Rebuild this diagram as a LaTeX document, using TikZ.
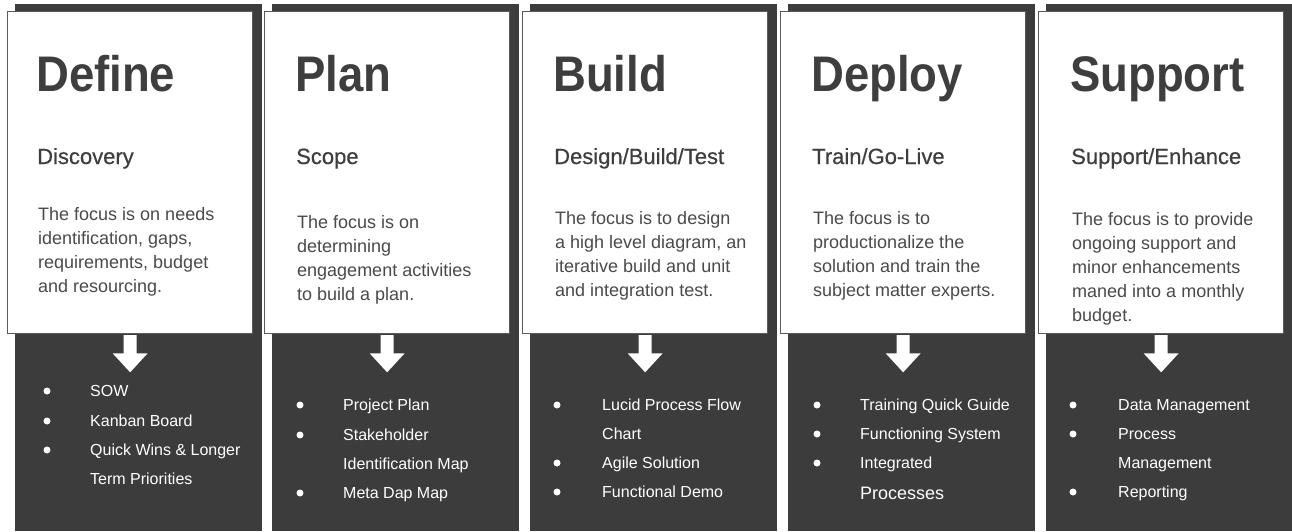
\documentclass[tikz,border=0pt]{standalone}
\usepackage{fontspec}
\setmainfont{Liberation Sans}
\newfontfamily\headfont{Liberation Sans Bold}[FakeStretch=0.91]
\newfontfamily\subfont{Liberation Sans}[FakeBold=0.5]
\usetikzlibrary{calc}

\definecolor{panelgray}{HTML}{3C3C3C}
\definecolor{inkgray}{HTML}{3E3E3E}
\definecolor{bodygray}{HTML}{4A4A4A}
\definecolor{edgegray}{HTML}{5A5A5A}

\tikzset{
  panel/.style={fill=panelgray, draw=none, anchor=north west, inner sep=0pt,
    minimum width=247pt, minimum height=527pt},
  phasebox/.style={fill=white, draw=edgegray, line width=1.3pt, anchor=north west,
    inner sep=0pt, minimum width=245pt, minimum height=322pt},
  heading/.style={anchor=base west, inner sep=0pt, text=inkgray,
    font=\headfont\fontsize{50}{60}\selectfont},
  subhead/.style={anchor=base west, inner sep=0pt, text=inkgray,
    font=\subfont\fontsize{22}{26}\selectfont},
  bodytext/.style={anchor=base west, inner sep=0pt, text=bodygray,
    font=\fontsize{18}{24}\selectfont},
  itemtext/.style={anchor=base west, inner sep=0pt, text=white,
    font=\fontsize{16}{20}\selectfont},
  dot/.style={circle, fill=white, draw=none, inner sep=0pt, minimum size=7pt},
  downarrow/.style={fill=white, draw=none},
}

% one phase: panel, white card, block arrow, heading and subheading
% #1 id, #2 panel left, #3 heading x, #4 heading, #5 subheading
\newcommand\phasecard[5]{%
  \node[panel] (panel#1) at (#2,4) {};
  \node[phasebox] (box#1) at ({#2-8},11) {};
  \fill[downarrow] ($(box#1.south)+(-6.5,0.7)$) -- ($(box#1.south)+(-6.5,19)$)
    -- ($(box#1.south)+(-17.5,19)$) -- ($(box#1.south)+(0,38)$)
    -- ($(box#1.south)+(17.5,19)$) -- ($(box#1.south)+(6.5,19)$)
    -- ($(box#1.south)+(6.5,0.7)$) -- cycle;
  \node[heading] (head#1) at ({#3-2},91) {#4};
  \node[subhead] (sub#1) at ({#3-1},164) {#5};
}

\begin{document}
\begin{tikzpicture}[x=1pt,y=-1pt]
\useasboundingbox (0,0) rectangle (1292,531);

\phasecard{1}{15}{38}{Define}{Discovery}
\phasecard{2}{272}{297}{Plan}{Scope}
\phasecard{3}{530}{555}{Build}{Design/Build/Test}
\phasecard{4}{788}{813}{Deploy}{Train/Go-Live}
\phasecard{5}{1046}{1072}{Support}{Support/Enhance}

% descriptions
\node[bodytext] (t1a) at (38,220) {The focus is on needs};
\node[bodytext] (t1b) at (38,244) {identification, gaps,};
\node[bodytext] (t1c) at (38,268) {requirements, budget};
\node[bodytext] (t1d) at (38,292) {and resourcing.};

\node[bodytext] (t2a) at (297,228) {The focus is on};
\node[bodytext] (t2b) at (297,252) {determining};
\node[bodytext] (t2c) at (297,276) {engagement activities};
\node[bodytext] (t2d) at (297,300) {to build a plan.};

\node[bodytext] (t3a) at (555,224) {The focus is to design};
\node[bodytext] (t3b) at (555,248) {a high level diagram, an};
\node[bodytext] (t3c) at (555,272) {iterative build and unit};
\node[bodytext] (t3d) at (555,296) {and integration test.};

\node[bodytext] (t4a) at (813,224) {The focus is to};
\node[bodytext] (t4b) at (813,248) {productionalize the};
\node[bodytext] (t4c) at (813,272) {solution and train the};
\node[bodytext] (t4d) at (813,296) {subject matter experts.};

\node[bodytext] (t5a) at (1072,225) {The focus is to provide};
\node[bodytext] (t5b) at (1072,249) {ongoing support and};
\node[bodytext] (t5c) at (1072,273) {minor enhancements};
\node[bodytext] (t5d) at (1072,297) {maned into a monthly};
\node[bodytext] (t5e) at (1072,321) {budget.};

% deliverables
\node[dot] (d1a) at (47,391) {};
\node[dot] (d1b) at (47,421) {};
\node[dot] (d1c) at (47,450) {};
\node[itemtext] (i1a) at (90,396) {SOW};
\node[itemtext] (i1b) at (90,426) {Kanban Board};
\node[itemtext] (i1c) at (90,455) {Quick Wins \& Longer};
\node[itemtext] (i1d) at (90,484) {Term Priorities};

\node[dot] (d2a) at (300,405) {};
\node[dot] (d2b) at (300,435) {};
\node[dot] (d2c) at (300,493) {};
\node[itemtext] (i2a) at (343,410) {Project Plan};
\node[itemtext] (i2b) at (343,440) {Stakeholder};
\node[itemtext] (i2c) at (343,469) {Identification Map};
\node[itemtext] (i2d) at (343,498) {Meta Dap Map};

\node[dot] (d3a) at (557,405) {};
\node[dot] (d3b) at (557,463) {};
\node[dot] (d3c) at (557,492) {};
\node[itemtext] (i3a) at (602,410) {Lucid Process Flow};
\node[itemtext] (i3b) at (602,439) {Chart};
\node[itemtext] (i3c) at (602,468) {Agile Solution};
\node[itemtext] (i3d) at (602,497) {Functional Demo};

\node[dot] (d4a) at (817,405) {};
\node[dot] (d4b) at (817,434) {};
\node[dot] (d4c) at (817,463) {};
\node[itemtext] (i4a) at (860,410) {Training Quick Guide};
\node[itemtext] (i4b) at (860,439) {Functioning System};
\node[itemtext] (i4c) at (860,468) {Integrated};
\node[itemtext, font=\fontsize{18}{22}\selectfont] (i4d) at (860,499) {Processes};

\node[dot] (d5a) at (1073,405) {};
\node[dot] (d5b) at (1073,434) {};
\node[dot] (d5c) at (1073,492) {};
\node[itemtext] (i5a) at (1118,410) {Data Management};
\node[itemtext] (i5b) at (1118,439) {Process};
\node[itemtext] (i5c) at (1118,468) {Management};
\node[itemtext] (i5d) at (1118,497) {Reporting};
\end{tikzpicture}
\end{document}
